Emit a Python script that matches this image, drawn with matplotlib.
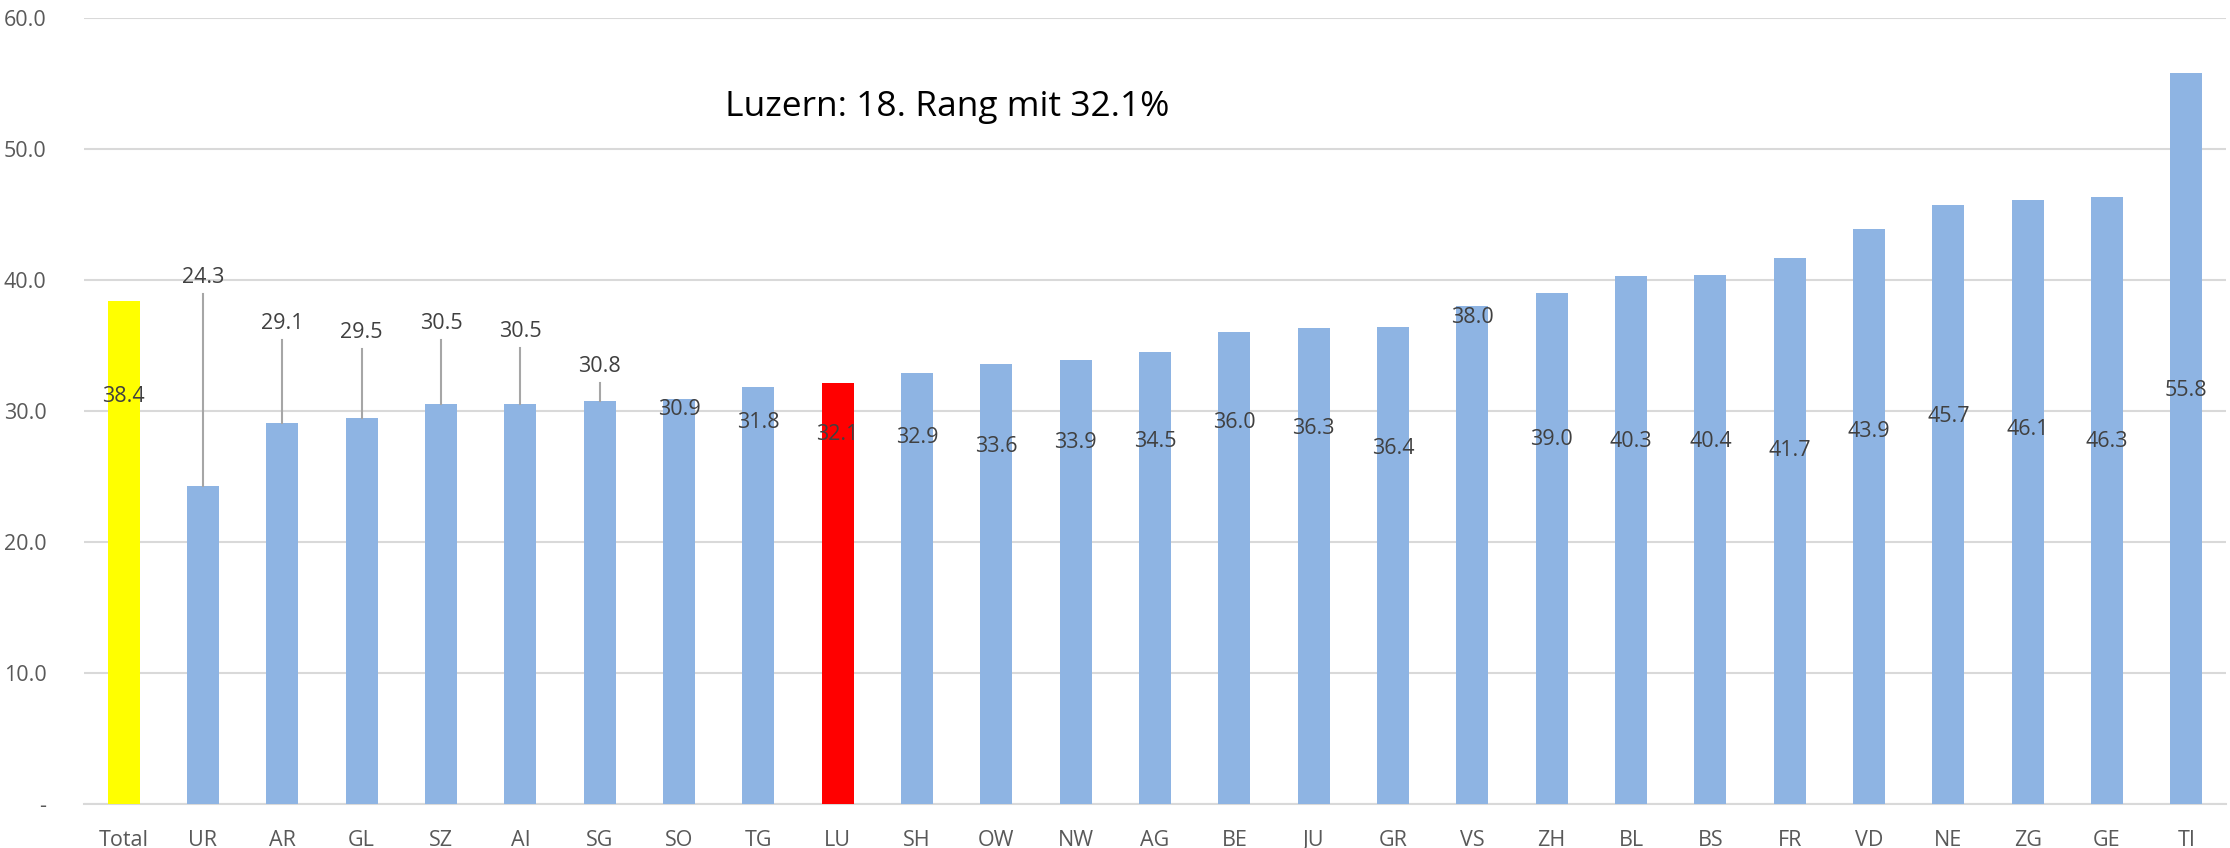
import matplotlib.pyplot as plt
import numpy as np

# %% data
cantons = ['Total', 'UR', 'AR', 'GL', 'SZ', 'AI', 'SG', 'SO', 'TG', 'LU', 'SH', 'OW', 'NW', 'AG',
           'BE', 'JU', 'GR', 'VS', 'ZH', 'BL', 'BS', 'FR', 'VD', 'NE', 'ZG', 'GE', 'TI']
values = [38.4, 24.3, 29.1, 29.5, 30.5, 30.5, 30.8, 30.9, 31.8, 32.1, 32.9, 33.6, 33.9, 34.5,
          36.0, 36.3, 36.4, 38.0, 39.0, 40.3, 40.4, 41.7, 43.9, 45.7, 46.1, 46.3, 55.8]
title_text = 'Luzern: 18. Rang mit 32.1%'

# label placement (layout, y in axis units) - labels sit scattered like in the original
label_y = [31.1, 40.2, 36.7, 36.0, 36.7, 36.1, 33.4, 30.1, 29.1, 28.2, 28.0, 27.3, 27.6, 27.7,
           29.1, 28.7, 27.1, 37.1, 27.8, 27.7, 27.7, 27.0, 28.4, 29.6, 28.6, 27.7, 31.6]
leader = [1, 2, 3, 4, 5, 6]  # bars whose label is above the bar with a connector line

# %% colours
bar_colors = ['#8eb4e3'] * len(cantons)
bar_colors[0] = '#ffff00'
bar_colors[cantons.index('LU')] = '#ff0000'

plt.rcParams['font.family'] = ['Open Sans', 'DejaVu Sans']

fig = plt.figure(figsize=(22.3, 8.48), dpi=100)
ax = fig.add_axes([84 / 2230, 1 - 804 / 848, (2226 - 84) / 2230, (804 - 18) / 848])

x = np.arange(len(cantons))
ax.bar(x, values, width=0.4, color=bar_colors, zorder=2)

ax.set_xlim(-0.5, len(cantons) - 0.5)
ax.set_ylim(0, 60)
ax.set_yticks(np.arange(0, 61, 10))
ax.set_yticklabels(['-'] + [f'{v:.1f}' for v in np.arange(10, 61, 10)])
ax.set_xticks(x)
ax.set_xticklabels(cantons)
ax.tick_params(axis='both', length=0, labelsize=15.5, labelcolor='#595959')
ax.tick_params(axis='x', pad=19)
ax.tick_params(axis='y', pad=27)

ax.yaxis.grid(True, color='#d9d9d9', linewidth=1.5, zorder=0)
for s in ['top', 'right', 'left']:
    ax.spines[s].set_visible(False)
ax.spines['bottom'].set_color('#d9d9d9')
ax.spines['bottom'].set_linewidth(1.5)
ax.spines['bottom'].set_zorder(1)

# data labels
for i, v in enumerate(values):
    ax.text(i, label_y[i], f'{v:.1f}', ha='center', va='center', fontsize=15.5,
            color='#404040', zorder=4)
    if i in leader:
        ax.plot([i, i], [label_y[i] - 1.3, v], color='#a6a6a6', linewidth=1.5, zorder=3)

ax.text(0.403, 0.887, title_text, transform=ax.transAxes, ha='center', va='center',
        fontsize=25.5, color='black')

fig.savefig('out.png', dpi=100)
